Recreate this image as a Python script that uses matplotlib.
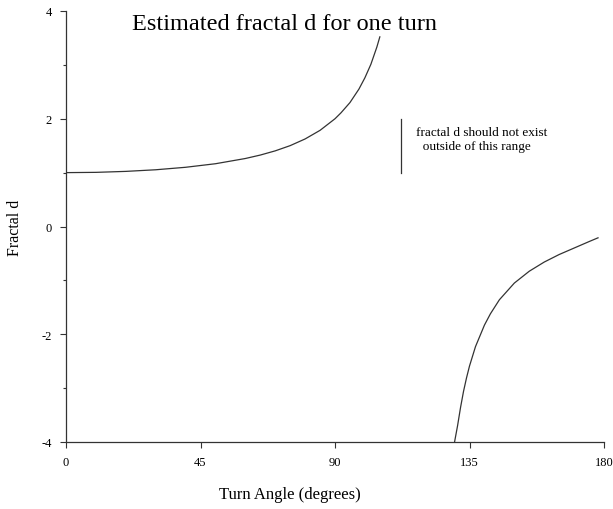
import matplotlib

matplotlib.use("Agg")
import matplotlib.pyplot as plt

# values
upper_angle = [0, 10, 20, 30, 40, 50, 60, 65, 70, 75, 80, 85, 90, 92, 95, 98, 100, 102, 104, 105]
upper_d = [1.0, 1.005, 1.023, 1.053, 1.099, 1.165, 1.262, 1.326, 1.404, 1.501, 1.625, 1.785,
           2.0, 2.11, 2.30, 2.55, 2.76, 3.01, 3.33, 3.52]
lower_angle = [130, 131, 132, 133, 134, 135, 137, 140, 142, 145, 150, 155, 160, 165, 170, 175, 178]
lower_d = [-4.0, -3.70, -3.36, -3.06, -2.81, -2.59, -2.23, -1.83, -1.62, -1.36, -1.05,
           -0.83, -0.66, -0.52, -0.40, -0.28, -0.21]
x_ticks = [0, 45, 90, 135, 180]
y_ticks = [-4, -2, 0, 2, 4]
y_minor = [-3, -1, 1, 3]
range_x = 112
range_lo, range_hi = 1, 2

SERIF = ["Liberation Serif", "DejaVu Serif"]
INK = "#333333"
plt.rcParams["axes.unicode_minus"] = False

fig = plt.figure(figsize=(6.13, 5.10), dpi=100)
ax = fig.add_axes([66 / 613, 67 / 510, 538 / 613, 431 / 510])

ax.plot(upper_angle, upper_d, color=INK, lw=0.9)
ax.plot(lower_angle, lower_d, color=INK, lw=0.9)
ax.plot([range_x, range_x], [range_lo, range_hi], color=INK, lw=0.9)
ax.text(range_x + 5, 1.63, "fractal d should not exist\n  outside of this range",
        fontsize=9.5, family=SERIF, va="center", ha="left", linespacing=1.25)

ax.set_xlim(0, 180)
ax.set_ylim(-4, 4)
ax.set_xticks(x_ticks)
ax.set_yticks(y_ticks)
ax.set_yticks(y_minor, minor=True)
ax.tick_params(axis="both", direction="out", length=4, width=0.8, color=INK,
               labelsize=9, pad=6)
ax.tick_params(axis="y", which="minor", direction="out", length=2, width=0.8, color=INK)
for lab in ax.get_xticklabels() + ax.get_yticklabels():
    lab.set_family(SERIF)
ax.spines[["top", "right"]].set_visible(False)
for s in ["left", "bottom"]:
    ax.spines[s].set_color(INK)
    ax.spines[s].set_linewidth(0.9)

fig.text(284 / 613, 1 - 25 / 510, "Estimated fractal d for one turn",
         fontsize=17.5, family=SERIF, ha="center", va="center")
fig.text(290 / 613, 1 - 495 / 510, "Turn Angle (degrees)",
         fontsize=12, family=SERIF, ha="center", va="center")
fig.text(15 / 613, 1 - 228 / 510, "Fractal d", rotation=90,
         fontsize=11.5, family=SERIF, ha="center", va="center")

fig.savefig("out.png", dpi=100)
